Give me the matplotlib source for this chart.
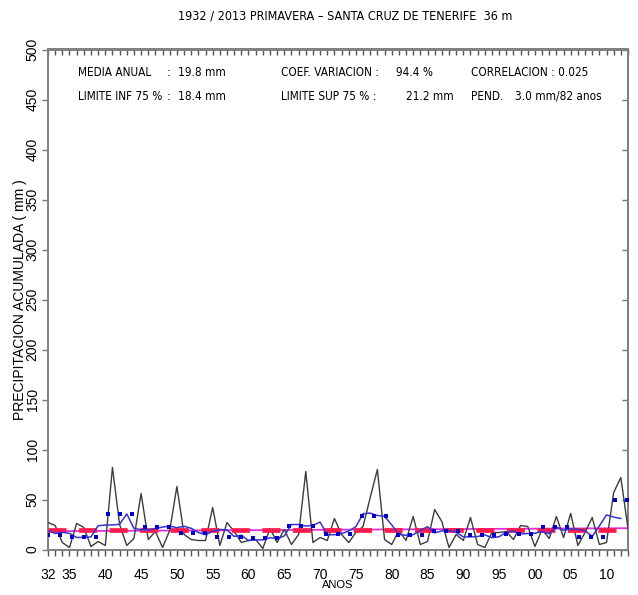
import numpy as np
import matplotlib.pyplot as plt

# spring precipitation, Santa Cruz de Tenerife (mm), 1932-2013
years = np.arange(1932, 2014)
precip = [27, 24, 7, 2, 26, 22, 3, 8, 4, 82,
          25, 4, 11, 56, 10, 18, 2, 19, 63, 15,
          10, 9, 9, 42, 4, 27, 18, 7, 9, 10,
          1, 21, 7, 20, 5, 15, 78, 7, 12, 9,
          31, 15, 7, 17, 23, 52, 80, 10, 5, 19,
          9, 33, 5, 8, 40, 28, 2, 15, 9, 32,
          5, 2, 17, 17, 18, 10, 24, 23, 3, 20,
          11, 33, 12, 36, 4, 17, 32, 5, 7, 57,
          72, 21]

# smoothed curve (blue line), 1932-2012
smooth_years = np.arange(1932, 2013)
smooth = [19, 16, 17.2, 16.2, 12, 12.2, 12.6, 23.8, 24.4, 24.6,
          25.2, 35.6, 21.2, 19.8, 19.4, 21, 22.4, 23.4, 21.8, 23.2,
          21.2, 17, 14.8, 18.2, 20, 19.6, 13, 14.2, 9, 9.6,
          9.6, 11.8, 10.8, 13.6, 25, 25, 23.4, 24.2, 27.4, 14.8,
          14.8, 15.8, 18.6, 22.8, 35.8, 36.4, 34, 33.2, 24.6, 15.2,
          14.2, 14.8, 19, 22.8, 16.6, 18.6, 18.8, 17.2, 12.6, 12.6,
          13, 14.6, 11.8, 12.8, 17.2, 18.4, 15.6, 16, 16.2, 18,
          15.8, 22.4, 19.2, 20.4, 20.2, 18.8, 13, 23.6, 34.6, 32.4,
          31]

# five-year block means (blue dots)
pentad_start = np.arange(1931, 2012, 5)
pentad = [15, 12.6, 35.6, 22.4, 17, 13, 11.8, 23.4, 15.8, 34,
          14.8, 18.8, 14.6, 15.6, 22.4, 13, 50]

media = 19.8
trend_years = [1932, 2013]
trend = [18.3, 21.3]

xticks = [1932, 1935, 1940, 1945, 1950, 1955, 1960, 1965, 1970, 1975,
          1980, 1985, 1990, 1995, 2000, 2005, 2010]
xlabels = ['32', '35', '40', '45', '50', '55', '60', '65', '70', '75',
           '80', '85', '90', '95', '00', '05', '10']

plt.rcParams['font.family'] = ['Liberation Sans', 'DejaVu Sans']
plt.rcParams['lines.scale_dashes'] = False
narrow = dict(family=['Liberation Sans Narrow', 'DejaVu Sans'],
              stretch='condensed')

W, H = 638, 595
fig = plt.figure(figsize=(W / 100, H / 100), dpi=100)
ax = fig.add_axes([48 / W, 1 - 549.5 / H, 580 / W, 500 / H])

ax.plot(years, precip, color='#3c3c3c', lw=1.0, zorder=3)
ax.plot(trend_years, trend, color='#e030e0', lw=1.3, zorder=2)
ax.plot([years[0], years[-1]], [media, media], color='#ff1a4d', lw=3.4,
        dashes=(13, 9), zorder=4)
ax.plot(smooth_years, smooth, color='#3535d0', lw=1.1, zorder=5)

# dotted step of block means
xd = np.arange(1932, 2013.5, 1.685)
idx = np.floor((xd - (pentad_start[0] - 0.65)) / 5).astype(int)
ax.plot(xd, np.array(pentad)[idx], 's', color='#0000c8', ms=2.6,
        mew=0, zorder=6)

ax.set_xlim(1932, 2013)
ax.set_ylim(0, 500)

ax.set_xticks(xticks)
ax.set_xticklabels(xlabels, fontsize=10)
ax.set_xticks(years, minor=True)
ax.tick_params(axis='x', which='both', direction='out', length=4.5,
               width=1, color='#555555', pad=9)
ax.set_yticks(np.arange(0, 501, 50))
ax.set_yticklabels([str(v) for v in range(0, 501, 50)], rotation=90,
                   va='center', fontsize=10)
ax.tick_params(axis='y', direction='out', length=4, width=1,
               color='#777777', pad=2)

# top and right ticks point inwards
top = ax.secondary_xaxis('top')
top.set_xticks(years)
top.tick_params(direction='in', length=4, width=1, color='#555555',
                labeltop=False)
right = ax.secondary_yaxis('right')
right.set_yticks(np.arange(0, 501, 50))
right.tick_params(direction='in', length=4, width=1, color='#777777',
                  labelright=False)

for a in (ax, top, right):
    for s in a.spines.values():
        s.set_color('#808080')
        s.set_linewidth(1.4)

ax.set_ylabel('PRECIPITACION ACUMULADA ( mm )', fontsize=10, labelpad=-1)
ax.set_xlabel('ANOS', fontsize=8, labelpad=-1.5)

fig.text(345 / W, 1 - 16 / H,
         '1932 / 2013 PRIMAVERA \u2013 SANTA CRUZ DE TENERIFE  36 m',
         ha='center', va='center', fontsize=9, **narrow)

stats = [
    (78, 73, 'MEDIA ANUAL'), (167, 73, ':'), (178, 73, '19.8 mm'),
    (281, 73, 'COEF. VARIACION :'), (396, 73, '94.4 %'),
    (471, 73, 'CORRELACION : 0.025'),
    (78, 96, 'LIMITE INF 75 %'), (167, 96, ':'), (178, 96, '18.4 mm'),
    (281, 96, 'LIMITE SUP 75 % :'), (406, 96, '21.2 mm'),
    (471, 96, 'PEND.'), (515, 96, '3.0 mm/82 anos'),
]
for x, y, s in stats:
    fig.text(x / W, 1 - y / H, s, ha='left', va='center', fontsize=8.5,
             **narrow)

fig.savefig('out.png', dpi=100)
